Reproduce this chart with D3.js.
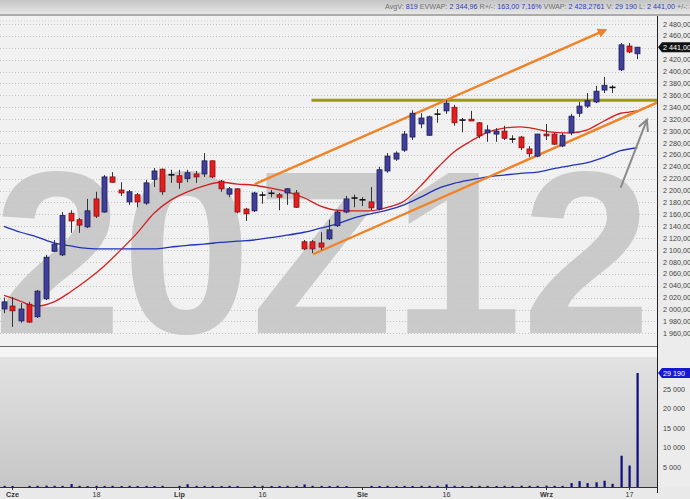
<!DOCTYPE html>
<html><head><meta charset="utf-8">
<script src="https://cdn.jsdelivr.net/npm/d3@7/dist/d3.min.js"></script>
<style>
html,body{margin:0;padding:0;background:#e8e8e8;}
svg{display:block;font-family:"Liberation Sans",Arial,sans-serif;}
</style></head>
<body>
<svg id="c" width="690" height="499"></svg>
<script>
// ---------- DATA ----------
const dates = [
 "05-31","06-01","06-04","06-05","06-06","06-08","06-11","06-12","06-13","06-14",
 "06-15","06-18","06-19","06-20","06-21","06-22","06-25","06-26","06-27","06-28",
 "06-29","07-02","07-03","07-04","07-05","07-06","07-09","07-10","07-11","07-12",
 "07-13","07-16","07-17","07-18","07-19","07-20","07-23","07-24","07-25","07-26",
 "07-27","07-30","07-31","08-01","08-02","08-03","08-06","08-07","08-08","08-09",
 "08-10","08-13","08-14","08-16","08-17","08-20","08-21","08-22","08-23","08-24",
 "08-27","08-28","08-29","08-30","08-31","09-03","09-04","09-05","09-06","09-07",
 "09-10","09-11","09-12","09-13","09-14","09-17","09-18"];
const open = [
 2001,2006,1981,2009,1988,2018,2098,2092,2162,2151,
 2139,2186,2164,2223,2201,2181,2193,2179,2219,2236,
 2227,2225,2220,2228,2228,2250,2216,2194,2203,2169,
 2166,2193,2196,2193,2196,2196,2114,2114,2112,2119,
 2141,2164,2188,2185,2181,2169,2233,2253,2268,2290,
 2312,2293,2329,2334,2340,2319,2320,2314,2297,2295,
 2300,2287,2290,2270,2258,2295,2295,2275,2297,2330,
 2342,2349,2369,2374,2403,2443,2430];
const high = [
 2020,2021,2011,2013,2033,2092,2117,2164,2167,2154,
 2186,2198,2226,2231,2214,2201,2196,2218,2238,2237,
 2235,2235,2235,2233,2263,2251,2218,2206,2204,2171,
 2198,2198,2201,2196,2204,2201,2117,2117,2130,2151,
 2167,2191,2193,2189,2206,2240,2263,2266,2300,2335,
 2330,2326,2337,2352,2344,2322,2334,2315,2310,2305,
 2309,2293,2292,2275,2295,2312,2297,2297,2329,2349,
 2364,2376,2391,2377,2448,2448,2441];
const low = [
 1994,1971,1978,1978,1986,2016,2097,2090,2129,2129,
 2137,2154,2163,2213,2191,2176,2172,2176,2206,2193,
 2213,2203,2214,2213,2223,2221,2198,2189,2162,2149,
 2164,2178,2189,2167,2176,2171,2100,2095,2100,2117,
 2139,2162,2172,2174,2167,2167,2230,2250,2265,2285,
 2305,2292,2314,2329,2309,2298,2317,2288,2282,2282,
 2285,2280,2268,2256,2256,2285,2277,2273,2293,2324,
 2339,2347,2364,2364,2401,2431,2421];
const close = [
 2013,1998,2001,1979,2031,2088,2110,2158,2149,2142,
 2166,2157,2223,2214,2196,2198,2181,2213,2233,2198,
 2226,2214,2230,2223,2250,2223,2203,2203,2164,2161,
 2196,2192,2195,2189,2203,2172,2102,2102,2105,2134,
 2164,2186,2187,2184,2171,2235,2258,2263,2295,2330,
 2322,2324,2328,2347,2314,2318,2317,2292,2302,2300,
 2288,2286,2272,2262,2295,2292,2278,2293,2325,2342,
 2351,2367,2377,2373,2445,2433,2441];
const volume = [
 300,250,0,280,300,350,300,280,750,300,
 250,300,280,300,250,300,260,280,250,300,
 0,280,700,300,280,300,250,280,250,0,
 280,300,250,260,300,280,650,300,280,260,
 300,250,0,0,280,260,300,250,280,260,
 300,280,300,650,300,260,280,300,280,260,
 300,280,320,300,280,350,300,280,1000,1500,
 1000,1200,1600,800,8000,5500,29190];
// moving averages read at sample indices
const maShortIdx = [0,2,3,4,6,8,10,12,14,16,18,20,22,24,26,28,30,32,34,36,38,40,42,44,46,48,50,52,54,56,58,60,62,64,66,68,70,72,74,75,76];
const maShortVal = [2024,2014,2008,2006,2013,2030,2050,2073,2100,2129,2162,2184,2198,2208,2214,2211,2209,2204,2198,2188,2174,2167,2166,2166,2172,2182,2208,2238,2265,2283,2298,2305,2307,2303,2298,2297,2302,2317,2330,2332,2334];
const maLongIdx = [0,2,4,6,8,10,12,14,16,18,20,22,24,26,28,30,32,34,36,38,40,42,44,46,48,50,52,54,56,58,60,62,64,66,68,70,72,74,76];
const maLongVal = [2140,2130,2122,2112,2107,2103,2102,2102,2102,2102,2105,2108,2110,2113,2115,2117,2121,2125,2130,2137,2144,2154,2161,2167,2176,2189,2203,2212,2218,2223,2226,2229,2231,2237,2242,2247,2256,2267,2272];
// trend lines [index, price]
const channelUpper = [[30.1,2211],[72.2,2470]];
const channelLower = [[37.1,2093],[80,2358]];
const resistance = [[36.9,2352],[80,2352]];
const hintArrow = [[74.0,2205],[77.15,2319]];
const priceTicks = d3.range(1960, 2481, 20);
const volTicks = [5000,10000,15000,20000,25000];
const dateTicks = [["06-01","Cze"],["06-18","18"],["07-02","Lip"],["07-16","16"],["08-01","Sie"],["08-16","16"],["09-03","Wrz"],["09-17","17"]];
const infoParts = [["AvgV: ","819"],[" EVWAP: ","2 344,96"],[" R+/-: ","163,00  7,16%"],["  VWAP: ","2 428,2761"],["  V: ","29 190"],["  L: ","2 441,00"],["  +/-: ","8,00  0,34%"]];
const lastPrice = 2441, lastVol = 29190;

// ---------- DRAW ----------
const svg = d3.select("#c");
const W = 690, H = 499, plotR = 657;
const pTop = 16, pBot = 346, vTop = 357, vBot = 487;
const x = d3.scaleLinear().domain([0, 76]).range([4, 637.3]);
const y = d3.scaleLinear().domain([1960, 2480]).range([333.4, 24]);
const yv = d3.scaleLinear().domain([0, 29190]).range([487, 373]);
const fmt = v => d3.format(",.2f")(v).replace(/,/g, " ").replace(".", ",");
const fmtV = v => d3.format(",")(v).replace(/,/g, " ");

const defs = svg.append("defs");
const g1 = defs.append("linearGradient").attr("id","topg").attr("x1",0).attr("y1",0).attr("x2",0).attr("y2",1);
g1.append("stop").attr("offset","0%").attr("stop-color","#c4c4c4");
g1.append("stop").attr("offset","100%").attr("stop-color","#e6e6e6");
const g2 = defs.append("linearGradient").attr("id","volg").attr("x1",0).attr("y1",0).attr("x2",0).attr("y2",1);
g2.append("stop").attr("offset","0%").attr("stop-color","#e2e2e2");
g2.append("stop").attr("offset","100%").attr("stop-color","#c6c6c6");
defs.append("clipPath").attr("id","pclip").append("rect").attr("x",0).attr("y",pTop).attr("width",plotR).attr("height",pBot-pTop);
defs.append("clipPath").attr("id","vclip").append("rect").attr("x",0).attr("y",vTop).attr("width",plotR).attr("height",vBot-vTop);
const mk = defs.append("marker").attr("id","arrO").attr("viewBox","0 0 10 10").attr("refX",8).attr("refY",5)
  .attr("markerWidth",4).attr("markerHeight",4).attr("orient","auto");
mk.append("path").attr("d","M0,0L10,5L0,10z").attr("fill","#f08228");

// backgrounds
svg.append("rect").attr("width",W).attr("height",H).attr("fill","#e9e9e9");
svg.append("rect").attr("x",0).attr("y",0).attr("width",W).attr("height",14).attr("fill","url(#topg)");
svg.append("line").attr("x1",0).attr("x2",W).attr("y1",15).attr("y2",15).attr("stroke","#6e6e6e").attr("stroke-width",1.2);
svg.append("rect").attr("x",0).attr("y",pTop).attr("width",plotR).attr("height",pBot-pTop).attr("fill","#f1f1f1");
svg.append("rect").attr("x",0).attr("y",vTop).attr("width",plotR).attr("height",vBot-vTop).attr("fill","url(#volg)");

// info text
const info = svg.append("text").attr("x",385).attr("y",8.5).attr("font-size",7.2);
infoParts.forEach(p => {
  info.append("tspan").attr("fill","#707070").text(p[0]);
  info.append("tspan").attr("fill","#2b3fb8").text(p[1]);
});

// price panel
const pp = svg.append("g").attr("clip-path","url(#pclip)");
pp.append("text").attr("x",-7).attr("y",333).attr("font-size",232).attr("font-weight","bold")
  .attr("fill","#cacaca").attr("textLength",658).attr("lengthAdjust","spacingAndGlyphs").text("20Z12");
pp.append("line").attr("x1",0).attr("x2",plotR).attr("y1",21).attr("y2",21).attr("stroke","#cfcfcf").attr("stroke-dasharray","1,2");
pp.selectAll("line.grid").data(priceTicks).join("line").attr("class","grid")
  .attr("x1",0).attr("x2",plotR).attr("y1",d=>Math.round(y(d))+0.5).attr("y2",d=>Math.round(y(d))+0.5)
  .attr("stroke","#c3c3c3").attr("stroke-dasharray","1,2");

const lineGen = d3.line().x(d=>x(d[0])).y(d=>y(d[1]));
const maLine = d3.line().x(d=>x(d[0])).y(d=>y(d[1])).curve(d3.curveMonotoneX);
pp.append("path").attr("d",maLine(maLongIdx.map((i,k)=>[i,maLongVal[k]]))).attr("fill","none").attr("stroke","#2233bb").attr("stroke-width",1.3);
pp.append("path").attr("d",maLine(maShortIdx.map((i,k)=>[i,maShortVal[k]]))).attr("fill","none").attr("stroke","#d42020").attr("stroke-width",1.3);

pp.append("path").attr("d",lineGen(resistance)).attr("stroke","#9c9c10").attr("stroke-width",3).attr("fill","none");
pp.append("path").attr("d",lineGen(channelUpper)).attr("stroke","#f08228").attr("stroke-width",2.4).attr("fill","none").attr("marker-end","url(#arrO)");
pp.append("path").attr("d",lineGen(channelLower)).attr("stroke","#f08228").attr("stroke-width",2.4).attr("fill","none");

// candles
const cg = pp.append("g");
dates.forEach((d,i) => {
  const cx = Math.round(x(i)) + 0.5;
  const up = close[i] >= open[i];
  const t = y(Math.max(open[i],close[i])), b = y(Math.min(open[i],close[i]));
  cg.append("line").attr("x1",cx).attr("x2",cx).attr("y1",y(high[i])).attr("y2",y(low[i])).attr("stroke","#333").attr("stroke-width",1);
  if (b - t < 1.6) {
    cg.append("line").attr("x1",cx-3).attr("x2",cx+3).attr("y1",(t+b)/2).attr("y2",(t+b)/2).attr("stroke","#111").attr("stroke-width",1.6);
  } else {
    cg.append("rect").attr("x",cx-2.5).attr("y",t).attr("width",5).attr("height",b-t)
      .attr("fill",up?"#40409a":"#e41e1e").attr("stroke",up?"#1c1c5a":"#8a1010").attr("stroke-width",0.8);
  }
});

// hint arrow
const ha = hintArrow.map(d=>[x(d[0]),y(d[1])]);
pp.append("line").attr("x1",ha[0][0]).attr("y1",ha[0][1]).attr("x2",ha[1][0]).attr("y2",ha[1][1]).attr("stroke","#8a8a8a").attr("stroke-width",2);
pp.append("path").attr("d",`M${ha[1][0]-8},${ha[1][1]+7}L${ha[1][0]},${ha[1][1]}L${ha[1][0]+1},${ha[1][1]+12}`).attr("fill","none").attr("stroke","#8a8a8a").attr("stroke-width",2);

// panel separators
svg.append("line").attr("x1",0).attr("x2",plotR).attr("y1",pBot+0.5).attr("y2",pBot+0.5).attr("stroke","#6a6a6a");
svg.append("rect").attr("x",0).attr("y",pBot+1).attr("width",plotR).attr("height",vTop-pBot-1).attr("fill","#f4f4f4");

// volume
const vp = svg.append("g").attr("clip-path","url(#vclip)");
vp.selectAll("rect.v").data(volume).join("rect").attr("class","v")
  .attr("x",(d,i)=>Math.round(x(i))-0.5).attr("width",2.2)
  .attr("y",d=>yv(d)).attr("height",d=>vBot-yv(d)).attr("fill","#0c0c80");

// right axis
svg.append("rect").attr("x",plotR+1).attr("y",pTop).attr("width",W-plotR).attr("height",vBot-pTop).attr("fill","#ececec");
svg.append("line").attr("x1",plotR+0.5).attr("x2",plotR+0.5).attr("y1",pTop).attr("y2",vBot+6).attr("stroke","#222");
svg.selectAll("text.pt").data(priceTicks).join("text").attr("class","pt")
  .attr("x",663).attr("y",d=>y(d)+2.5).attr("font-size",7.2).attr("fill","#444").text(d=>fmt(d));
svg.selectAll("text.vt").data(volTicks).join("text").attr("class","vt")
  .attr("x",663).attr("y",d=>yv(d)+2.5).attr("font-size",7.2).attr("fill","#444").text(d=>fmtV(d));
// last price marker
const ly = y(lastPrice);
svg.append("path").attr("d",`M658,${ly}L662,${ly-5}L690,${ly-5}L690,${ly+5}L662,${ly+5}Z`).attr("fill","#111");
svg.append("text").attr("x",663).attr("y",ly+2.5).attr("font-size",7.2).attr("fill","#fff").text(fmt(lastPrice));
const lvy = yv(lastVol);
svg.append("path").attr("d",`M658,${lvy}L662,${lvy-5}L690,${lvy-5}L690,${lvy+5}L662,${lvy+5}Z`).attr("fill","#1818cc");
svg.append("text").attr("x",663).attr("y",lvy+2.5).attr("font-size",7.2).attr("fill","#fff").text(fmtV(lastVol));

// bottom axis
svg.append("line").attr("x1",0).attr("x2",plotR).attr("y1",vBot+0.5).attr("y2",vBot+0.5).attr("stroke","#333");
dateTicks.forEach(t => {
  const i = dates.indexOf(t[0]);
  const tx = Math.round(x(i)) + 0.5;
  svg.append("line").attr("x1",tx).attr("x2",tx).attr("y1",vBot).attr("y2",vBot+3).attr("stroke","#333");
  svg.append("text").attr("x",tx).attr("y",497).attr("text-anchor","middle").attr("font-size",7.2)
    .attr("fill","#333").attr("font-weight",isNaN(+t[1])?"bold":"normal").text(t[1]);
});
</script>
</body></html>
